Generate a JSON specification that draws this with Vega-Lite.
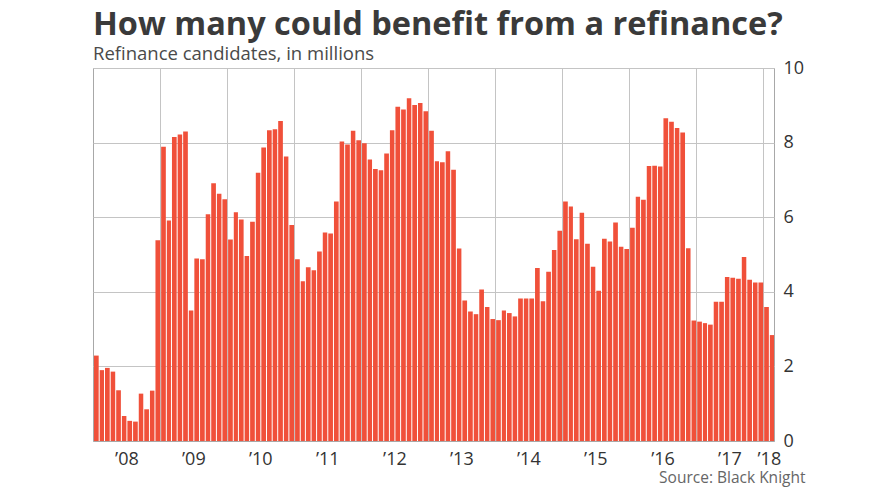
{
  "$schema": "https://vega.github.io/schema/vega-lite/v6.json",
  "width": 681,
  "height": 373,
  "autosize": {"type": "none"},
  "padding": {"left": 93, "top": 68, "right": 116, "bottom": 60},
  "background": "white",
  "title": {
    "text": "How many could benefit from a refinance?",
    "subtitle": "Refinance candidates, in millions",
    "anchor": "start",
    "frame": "group",
    "offset": -4,
    "font": "Open Sans",
    "fontSize": 32.5,
    "fontWeight": 700,
    "color": "#3a3a3a",
    "subtitleFont": "Open Sans",
    "subtitleFontSize": 18.5,
    "subtitleColor": "#4a4a4a",
    "subtitlePadding": 3
  },
  "config": {
    "view": {"stroke": "#a8a8a8", "strokeWidth": 1},
    "axis": {"labelFont": "Open Sans", "titleFont": "Open Sans"}
  },
  "data": {
    "values": [
      {"d": "2008-01-01", "v": 2.29}, {"d": "2008-02-01", "v": 1.90}, {"d": "2008-03-01", "v": 1.96}, {"d": "2008-04-01", "v": 1.86},
      {"d": "2008-05-01", "v": 1.36}, {"d": "2008-06-01", "v": 0.67}, {"d": "2008-07-01", "v": 0.54}, {"d": "2008-08-01", "v": 0.52},
      {"d": "2008-09-01", "v": 1.27}, {"d": "2008-10-01", "v": 0.85}, {"d": "2008-11-01", "v": 1.35}, {"d": "2008-12-01", "v": 5.38},
      {"d": "2009-01-01", "v": 7.89}, {"d": "2009-02-01", "v": 5.91}, {"d": "2009-03-01", "v": 8.15}, {"d": "2009-04-01", "v": 8.22},
      {"d": "2009-05-01", "v": 8.30}, {"d": "2009-06-01", "v": 3.50}, {"d": "2009-07-01", "v": 4.89}, {"d": "2009-08-01", "v": 4.87},
      {"d": "2009-09-01", "v": 6.08}, {"d": "2009-10-01", "v": 6.91}, {"d": "2009-11-01", "v": 6.63}, {"d": "2009-12-01", "v": 6.48},
      {"d": "2010-01-01", "v": 5.40}, {"d": "2010-02-01", "v": 6.13}, {"d": "2010-03-01", "v": 5.94}, {"d": "2010-04-01", "v": 4.96},
      {"d": "2010-05-01", "v": 5.88}, {"d": "2010-06-01", "v": 7.19}, {"d": "2010-07-01", "v": 7.87}, {"d": "2010-08-01", "v": 8.33},
      {"d": "2010-09-01", "v": 8.36}, {"d": "2010-10-01", "v": 8.58}, {"d": "2010-11-01", "v": 7.63}, {"d": "2010-12-01", "v": 5.79},
      {"d": "2011-01-01", "v": 4.87}, {"d": "2011-02-01", "v": 4.28}, {"d": "2011-03-01", "v": 4.66}, {"d": "2011-04-01", "v": 4.58},
      {"d": "2011-05-01", "v": 5.08}, {"d": "2011-06-01", "v": 5.59}, {"d": "2011-07-01", "v": 5.56}, {"d": "2011-08-01", "v": 6.42},
      {"d": "2011-09-01", "v": 8.03}, {"d": "2011-10-01", "v": 7.95}, {"d": "2011-11-01", "v": 8.32}, {"d": "2011-12-01", "v": 8.06},
      {"d": "2012-01-01", "v": 7.98}, {"d": "2012-02-01", "v": 7.55}, {"d": "2012-03-01", "v": 7.29}, {"d": "2012-04-01", "v": 7.26},
      {"d": "2012-05-01", "v": 7.71}, {"d": "2012-06-01", "v": 8.33}, {"d": "2012-07-01", "v": 8.96}, {"d": "2012-08-01", "v": 8.89},
      {"d": "2012-09-01", "v": 9.19}, {"d": "2012-10-01", "v": 9.01}, {"d": "2012-11-01", "v": 9.06}, {"d": "2012-12-01", "v": 8.84},
      {"d": "2013-01-01", "v": 8.32}, {"d": "2013-02-01", "v": 7.50}, {"d": "2013-03-01", "v": 7.47}, {"d": "2013-04-01", "v": 7.77},
      {"d": "2013-05-01", "v": 7.27}, {"d": "2013-06-01", "v": 5.16}, {"d": "2013-07-01", "v": 3.77}, {"d": "2013-08-01", "v": 3.47},
      {"d": "2013-09-01", "v": 3.40}, {"d": "2013-10-01", "v": 4.06}, {"d": "2013-11-01", "v": 3.59}, {"d": "2013-12-01", "v": 3.27},
      {"d": "2014-01-01", "v": 3.24}, {"d": "2014-02-01", "v": 3.50}, {"d": "2014-03-01", "v": 3.43}, {"d": "2014-04-01", "v": 3.34},
      {"d": "2014-05-01", "v": 3.82}, {"d": "2014-06-01", "v": 3.82}, {"d": "2014-07-01", "v": 3.82}, {"d": "2014-08-01", "v": 4.64},
      {"d": "2014-09-01", "v": 3.75}, {"d": "2014-10-01", "v": 4.54}, {"d": "2014-11-01", "v": 5.12}, {"d": "2014-12-01", "v": 5.64},
      {"d": "2015-01-01", "v": 6.42}, {"d": "2015-02-01", "v": 6.29}, {"d": "2015-03-01", "v": 5.41}, {"d": "2015-04-01", "v": 6.12},
      {"d": "2015-05-01", "v": 5.29}, {"d": "2015-06-01", "v": 4.67}, {"d": "2015-07-01", "v": 4.03}, {"d": "2015-08-01", "v": 5.42},
      {"d": "2015-09-01", "v": 5.35}, {"d": "2015-10-01", "v": 5.86}, {"d": "2015-11-01", "v": 5.21}, {"d": "2015-12-01", "v": 5.15},
      {"d": "2016-01-01", "v": 5.72}, {"d": "2016-02-01", "v": 6.55}, {"d": "2016-03-01", "v": 6.47}, {"d": "2016-04-01", "v": 7.37},
      {"d": "2016-05-01", "v": 7.38}, {"d": "2016-06-01", "v": 7.36}, {"d": "2016-07-01", "v": 8.65}, {"d": "2016-08-01", "v": 8.56},
      {"d": "2016-09-01", "v": 8.39}, {"d": "2016-10-01", "v": 8.27}, {"d": "2016-11-01", "v": 5.17}, {"d": "2016-12-01", "v": 3.23},
      {"d": "2017-01-01", "v": 3.20}, {"d": "2017-02-01", "v": 3.16}, {"d": "2017-03-01", "v": 3.12}, {"d": "2017-04-01", "v": 3.73},
      {"d": "2017-05-01", "v": 3.73}, {"d": "2017-06-01", "v": 4.40}, {"d": "2017-07-01", "v": 4.38}, {"d": "2017-08-01", "v": 4.35},
      {"d": "2017-09-01", "v": 4.93}, {"d": "2017-10-01", "v": 4.32}, {"d": "2017-11-01", "v": 4.25}, {"d": "2017-12-01", "v": 4.25},
      {"d": "2018-01-01", "v": 3.59}, {"d": "2018-02-01", "v": 2.84}
    ]
  },
  "layer": [
    {
      "mark": {"type": "rule", "strokeOpacity": 0},
      "encoding": {
        "x": {
          "field": "d", "timeUnit": "utcyearmonth", "type": "temporal",
          "scale": {"domain": [{"year": 2008, "month": 1, "date": 1, "utc": true}, {"year": 2018, "month": 3, "date": 1, "utc": true}]},
          "axis": {
            "orient": "top", "title": null, "labels": false, "ticks": false, "domain": false,
            "grid": true, "gridColor": "#c4c4c4", "gridWidth": 1,
            "values": [
              {"year": 2009, "month": 1, "date": 1, "utc": true}, {"year": 2010, "month": 1, "date": 1, "utc": true},
              {"year": 2011, "month": 1, "date": 1, "utc": true}, {"year": 2012, "month": 1, "date": 1, "utc": true},
              {"year": 2013, "month": 1, "date": 1, "utc": true}, {"year": 2014, "month": 1, "date": 1, "utc": true},
              {"year": 2015, "month": 1, "date": 1, "utc": true}, {"year": 2016, "month": 1, "date": 1, "utc": true},
              {"year": 2017, "month": 1, "date": 1, "utc": true}, {"year": 2018, "month": 1, "date": 1, "utc": true}
            ]
          }
        }
      }
    },
    {
      "mark": {"type": "bar", "color": "#f0503a", "timeUnitBandSize": 0.72, "timeUnitBandPosition": 0},
      "encoding": {
        "x": {
          "field": "d", "timeUnit": "utcyearmonth", "type": "temporal",
          "axis": {
            "orient": "bottom",
            "title": "Source: Black Knight",
            "titleFontSize": 15.5, "titleFontWeight": "normal", "titleColor": "#666",
            "titleAnchor": "end", "titleAlign": "right", "titleBaseline": "alphabetic",
            "titleX": 712, "titleY": 41,
            "grid": false, "ticks": false, "domainColor": "#a8a8a8",
            "labelFontSize": 18, "labelColor": "#333", "labelPadding": 9, "labelBaseline": "top",
            "labelExpr": "'’' + utcFormat(datum.value, '%y')",
            "values": [
              {"year": 2008, "month": 7, "date": 1, "utc": true}, {"year": 2009, "month": 7, "date": 1, "utc": true},
              {"year": 2010, "month": 7, "date": 1, "utc": true}, {"year": 2011, "month": 7, "date": 1, "utc": true},
              {"year": 2012, "month": 7, "date": 1, "utc": true}, {"year": 2013, "month": 7, "date": 1, "utc": true},
              {"year": 2014, "month": 7, "date": 1, "utc": true}, {"year": 2015, "month": 7, "date": 1, "utc": true},
              {"year": 2016, "month": 7, "date": 1, "utc": true}, {"year": 2017, "month": 7, "date": 1, "utc": true},
              {"year": 2018, "month": 2, "date": 1, "utc": true}
            ]
          }
        },
        "y": {
          "field": "v", "type": "quantitative",
          "scale": {"domain": [0, 10]},
          "axis": {
            "orient": "right", "title": null, "values": [0, 2, 4, 6, 8, 10],
            "grid": true, "gridColor": "#c4c4c4", "ticks": false, "domain": false,
            "labelFontSize": 18, "labelColor": "#333", "labelPadding": 9
          }
        }
      }
    }
  ],
  "resolve": {"axis": {"x": "independent"}}
}
